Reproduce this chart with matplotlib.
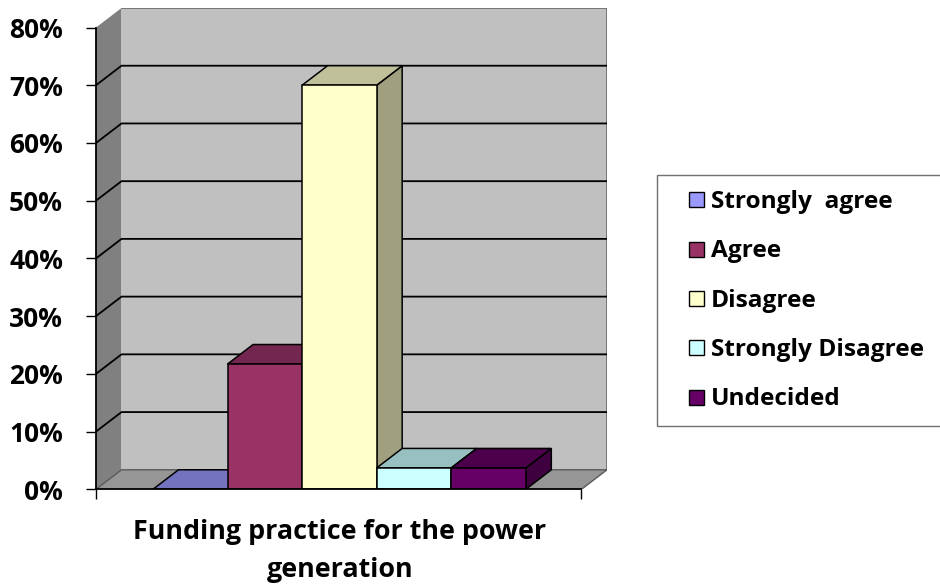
import matplotlib.pyplot as plt
from matplotlib.patches import Polygon
from matplotlib.lines import Line2D

# Survey responses, percent of respondents
categories = ['Strongly  agree', 'Agree', 'Disagree', 'Strongly Disagree', 'Undecided']
values = [0.0, 21.7, 70.0, 3.7, 3.7]
front_colors = ['#9999FF', '#993366', '#FFFFCC', '#CCFFFF', '#660066']
top_colors = ['#7373BF', '#732650', '#C0C09A', '#99C0C0', '#4C004C']
side_colors = ['#60609F', '#602040', '#A0A080', '#80A0A0', '#3E003E']
y_ticks = [0, 10, 20, 30, 40, 50, 60, 70, 80]
x_title = 'Funding practice for the power\ngeneration'

plt.rcParams['font.family'] = ['Open Sans', 'DejaVu Sans']
plt.rcParams['font.weight'] = 'bold'

fig = plt.figure(figsize=(9.4, 5.86), dpi=100)
ax = fig.add_axes([96 / 940, (586 - 489.3) / 586, 511 / 940, (489.3 - 8) / 586])

# box geometry (data units): front plane limits and depth offset
x_left, x_right = -1.264, 5.247
y_top = 80
dx, dy = 0.342, 3.38
width = 1.0

ax.set_xlim(x_left, x_right + dx)
ax.set_ylim(0, y_top + dy)

# back wall, side wall and floor
ax.add_patch(Polygon([(x_left + dx, dy), (x_right + dx, dy), (x_right + dx, y_top + dy), (x_left + dx, y_top + dy)],
                     facecolor='#C0C0C0', edgecolor='none', zorder=0))
ax.add_patch(Polygon([(x_left, 0), (x_left + dx, dy), (x_left + dx, y_top + dy), (x_left, y_top)],
                     facecolor='#808080', edgecolor='none', zorder=0))
ax.add_patch(Polygon([(x_left, 0), (x_right, 0), (x_right + dx, dy), (x_left + dx, dy)],
                     facecolor='#969696', edgecolor='none', zorder=0.5))

# outline of the back wall and floor
ax.plot([x_left + dx, x_right + dx, x_right + dx], [y_top + dy, y_top + dy, dy], color='#6a6a6a', lw=1.2, zorder=0.6)
ax.plot([x_left, x_left + dx, x_right + dx, x_right], [0, dy, dy, 0], color='#5a5a5a', lw=1.0, zorder=0.6)

# gridlines running across side wall and back wall
for t in y_ticks[1:-1]:
    ax.plot([x_left, x_left + dx, x_right + dx], [t, t + dy, t + dy], color='black', lw=1.3, zorder=1)

# 3-D bars: side face, top face, then front face
for i, v in enumerate(values):
    x0, x1 = i - width / 2, i + width / 2
    z = 2 + i
    ax.add_patch(Polygon([(x1, 0), (x1 + dx, dy), (x1 + dx, v + dy), (x1, v)],
                         facecolor=side_colors[i], edgecolor='black', lw=1.1, zorder=z))
    ax.add_patch(Polygon([(x0, v), (x1, v), (x1 + dx, v + dy), (x0 + dx, v + dy)],
                         facecolor=top_colors[i], edgecolor='black', lw=1.1, zorder=z))
    ax.bar(i, v, width=width, color=front_colors[i], edgecolor='black', lw=1.1, zorder=z)

# axes
for s in ['top', 'right']:
    ax.spines[s].set_visible(False)
ax.spines['left'].set_bounds(0, y_top)
ax.spines['bottom'].set_bounds(x_left, x_right)
ax.spines['left'].set_linewidth(1.3)
ax.spines['bottom'].set_linewidth(1.3)
ax.spines['left'].set_zorder(10)
ax.spines['bottom'].set_zorder(10)

ax.set_yticks(y_ticks)
ax.set_yticklabels([f'{t}%' for t in y_ticks])
ax.set_xticks([x_left, x_right])
ax.set_xticklabels(['', ''])
ax.tick_params(axis='y', length=7.2, width=1, pad=16.6, labelsize=19)
ax.tick_params(axis='x', length=7.2, width=1)

ax.set_xlabel(x_title, fontsize=19.4, fontweight='bold', linespacing=1.6, va='top')
ax.xaxis.set_label_coords((340 - 96) / 511, (489.3 - 519) / 482)

# legend
handles = [Line2D([], [], marker='s', ls='none', markersize=10.8, markerfacecolor=c,
                  markeredgecolor='black', markeredgewidth=1.0) for c in front_colors]
leg = fig.legend(handles, categories, loc='upper left',
                 bbox_to_anchor=(657 / 940, 1 - 425 / 586, 320 / 940, 250 / 586),
                 mode='expand', borderaxespad=0, fontsize=17.6, frameon=True, fancybox=False,
                 edgecolor='#707070', framealpha=1, borderpad=0.6, labelspacing=1.04,
                 handlelength=1.96, handletextpad=-0.35)
leg.get_frame().set_linewidth(1.0)
for txt in leg.get_texts():
    txt.set_fontweight('bold')

plt.savefig('out.png', dpi=100)
